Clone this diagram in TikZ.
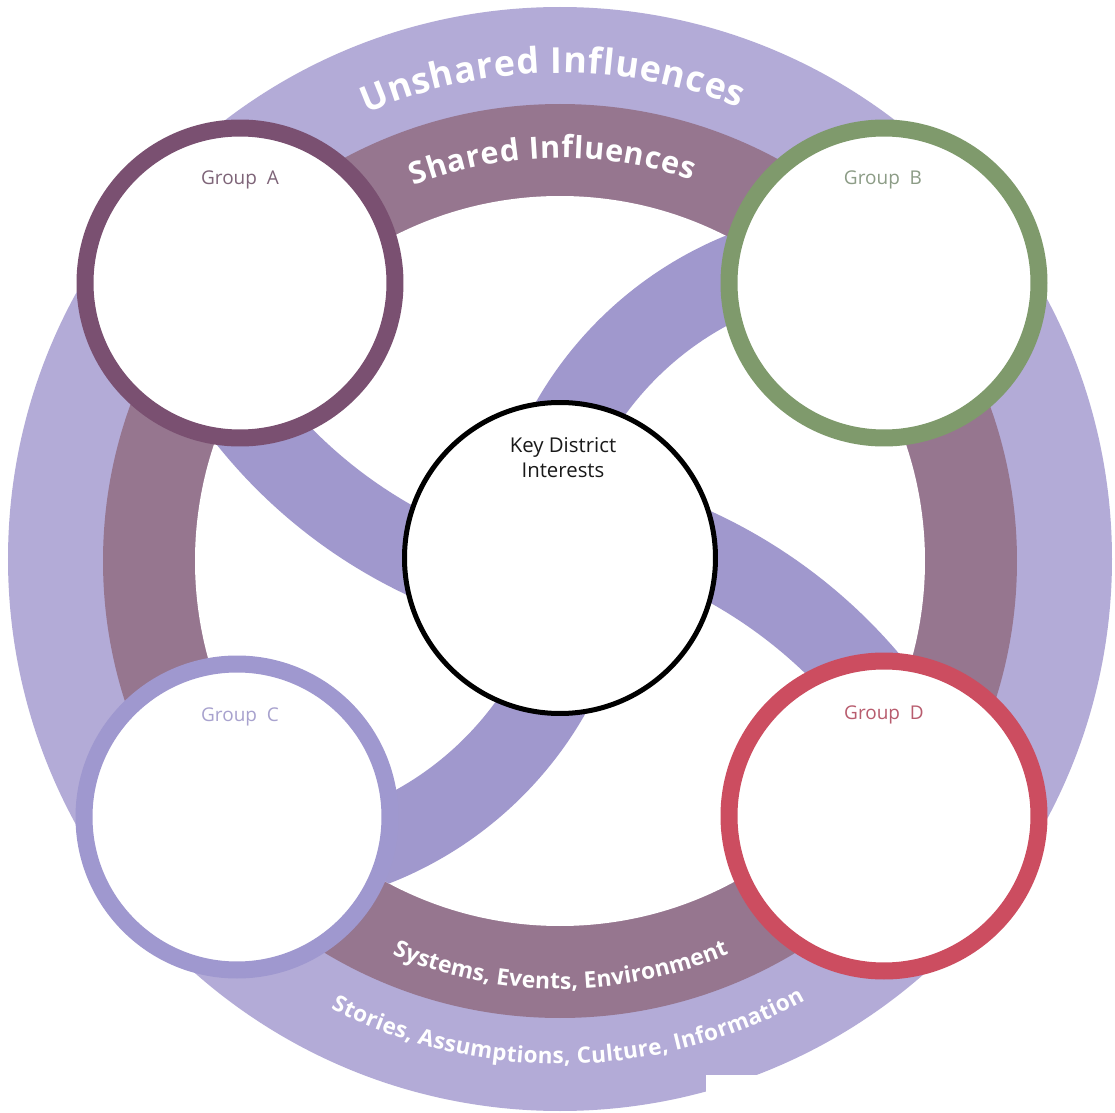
\documentclass[tikz,border=0pt]{standalone}
\usepackage{fontspec}
\setmainfont{Open Sans}
\usetikzlibrary{decorations.text}
\definecolor{lav}{HTML}{B3ABD7}
\definecolor{mauve}{HTML}{96768F}
\definecolor{bandc}{HTML}{A098CD}
\definecolor{ringA}{HTML}{7A5071}
\definecolor{ringB}{HTML}{7F9A6C}
\definecolor{ringC}{HTML}{9F98CF}
\definecolor{ringD}{HTML}{CC4D60}
\definecolor{txtA}{HTML}{7E6478}
\definecolor{txtB}{HTML}{8C9C86}
\definecolor{txtC}{HTML}{A8A2CE}
\definecolor{txtD}{HTML}{B85C6E}
\begin{document}
\begin{tikzpicture}[x=0.1mm, y=0.1mm,
  band/.style={draw=bandc, line width=8.2mm},
  grp/.style={circle, draw=#1, fill=white, line width=1.7mm, minimum size=31mm, inner sep=0pt},
  grplabel/.style={text=#1, font=\fontsize{5.4}{6}\selectfont, anchor=base},
  arctext/.style 2 args={decorate, decoration={text along path, text color=white,
     text align={fit to path}, text={|\bfseries\fontsize{#1}{#1}\selectfont|#2}}},
  keytext/.style={font=\fontsize{5.8}{7}\selectfont, text=black!90, anchor=base}]
\useasboundingbox (0,0) rectangle (1115,1112);
\fill[white] (0,0) rectangle (1115,1112);
% rings
\fill[lav] (560,553) circle[radius=552];
\fill[mauve] (560,551) circle[radius=457];
\fill[white] (560,551) circle[radius=365];
% S-bands
\begin{scope}
\clip (560,551) circle[radius=365];
\draw[band] (635,1001) ++(200:494) arc[start angle=200,end angle=270,radius=494];
\draw[band] (485,107) ++(90:502) arc[start angle=90,end angle=20,radius=502];
\draw[band] (872,518) ++(95:346) arc[start angle=95,end angle=180,radius=346];
\draw[band] (248,590) ++(0:347) arc[start angle=0,end angle=-85,radius=347];
\end{scope}
% curved texts
\path[arctext={10.2}{Unshared Influences}]
  (560,553) ++(113.5:486) arc[start angle=113.5,end angle=68.3,radius=486];
\path[arctext={8.7}{Shared Influences}]
  (560,551) ++(111.3:403) arc[start angle=111.3,end angle=70.9,radius=403];
\path[arctext={6.5}{Systems, Events, Environment}]
  (560,551) ++(246.9:428) arc[start angle=246.9,end angle=293.3,radius=428];
\path[arctext={6.4}{Stories, Assumptions, Culture, Information}]
  (560,553) ++(243:505) arc[start angle=243,end angle=299,radius=505];
% circles
\node[circle, draw=black, fill=white, line width=0.5mm, minimum size=31.1mm, inner sep=0pt] (key) at (560,554) {};
\node[grp=ringA] (gA) at (240,829) {};
\node[grp=ringB] (gB) at (884,829) {};
\node[grp=ringC, minimum size=30.6mm] (gC) at (237,295) {};
\node[grp=ringD] (gD) at (884,296) {};
% labels
\node[keytext] (k1) at (563,660) {Key District};
\node[keytext] (k2) at (563,635) {Interests};
\node[grplabel=txtA] (lA) at (240,928) {Group~~A};
\node[grplabel=txtB] (lB) at (883,928) {Group~~B};
\node[grplabel=txtC] (lC) at (240,391) {Group~~C};
\node[grplabel=txtD] (lD) at (884,393) {Group~~D};
% white patch bottom right
\fill[white] (706,0) rectangle (1115,37);
\end{tikzpicture}
\end{document}
